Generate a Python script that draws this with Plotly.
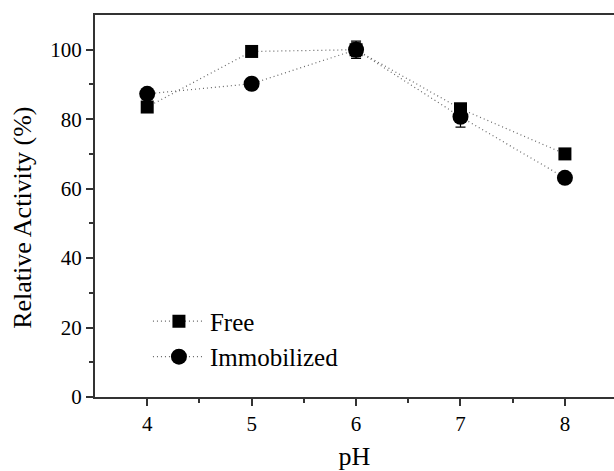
import plotly.graph_objects as go

ph = [4, 5, 6, 7, 8]
free = [83.5, 99.5, 100, 83, 70]
free_err = [1.0, 0.8, 2.0, 1.2, 0.8]
immob = [87.3, 90.2, 100, 80.7, 63.1]
immob_err = [1.0, 0.8, 2.5, 3.0, 0.8]

FONT = "Liberation Serif, Times New Roman, serif"

fig = go.Figure()
fig.add_trace(go.Scatter(
    x=ph, y=free, name="Free", mode="lines+markers",
    line=dict(color="#666666", width=1.2, dash="1px,3px"),
    marker=dict(symbol="square", size=13, color="black"),
    error_y=dict(type="data", array=free_err, color="black", thickness=1.2, width=5),
))
fig.add_trace(go.Scatter(
    x=ph, y=immob, name="Immobilized", mode="lines+markers",
    line=dict(color="#666666", width=1.2, dash="1px,3px"),
    marker=dict(symbol="circle", size=16, color="black"),
    error_y=dict(type="data", array=immob_err, color="black", thickness=1.2, width=5),
))

axis_common = dict(
    showgrid=False, zeroline=False, showline=True, linecolor="#333333", linewidth=2,
    ticks="outside", ticklen=7, tickwidth=2, tickcolor="#333333", automargin=False,
    tickfont=dict(family=FONT, size=21, color="black"),
)
fig.update_xaxes(
    **axis_common, range=[3.5, 8.47], tickvals=ph, mirror=True,
    minor=dict(tickvals=[4.5, 5.5, 6.5, 7.5], ticks="outside", ticklen=4, tickwidth=2, tickcolor="#333333"),
    title=dict(text="pH", font=dict(family=FONT, size=26, color="black"), standoff=20),
)
fig.update_yaxes(
    **axis_common, range=[0, 110], tickvals=[0, 20, 40, 60, 80, 100],
    minor=dict(tickvals=[10, 30, 50, 70, 90], ticks="outside", ticklen=4, tickwidth=2, tickcolor="#333333"),
)
fig.add_annotation(
    text="Relative Activity (%)", xref="paper", yref="paper", x=-0.1387, y=0.469,
    xanchor="center", yanchor="middle", textangle=-90, showarrow=False,
    font=dict(family=FONT, size=26, color="black"),
)
fig.update_layout(
    width=614, height=471,
    margin=dict(l=95, r=0, t=15, b=74),
    paper_bgcolor="white", plot_bgcolor="white",
    showlegend=True,
    legend=dict(x=0.102, y=0.258, xanchor="left", yanchor="top", itemwidth=52,
                font=dict(family=FONT, size=25, color="black"),
                bgcolor="rgba(0,0,0,0)", tracegroupgap=0),
)
fig.write_html("out.html")
